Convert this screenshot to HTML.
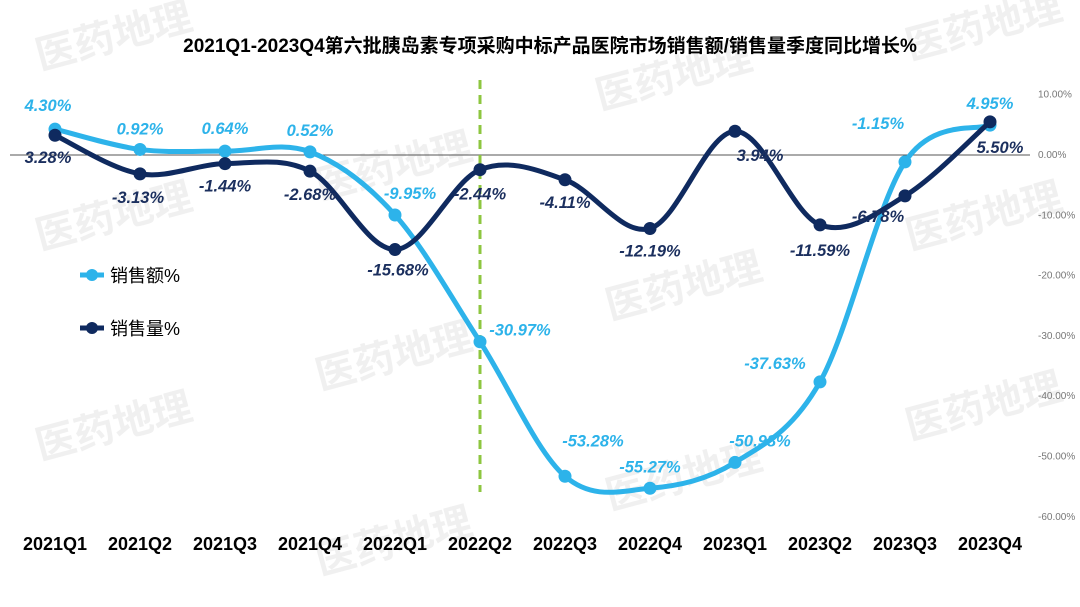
<!DOCTYPE html>
<html><head><meta charset="utf-8"><style>
body{margin:0;background:#fff;}
svg{display:block;font-family:"Liberation Sans","Noto Sans CJK SC",sans-serif;}
</style></head><body>
<svg id="chart" width="1080" height="607" viewBox="0 0 1080 607">
<g id="wm" fill="#000" fill-opacity="0.06" font-weight="bold" font-size="40" font-family="'Noto Sans CJK SC',sans-serif">
<text x="40" y="70" transform="rotate(-15 40 70)">医药地理</text>
<text x="600" y="110" transform="rotate(-15 600 110)">医药地理</text>
<text x="910" y="60" transform="rotate(-15 910 60)">医药地理</text>
<text x="320" y="200" transform="rotate(-15 320 200)">医药地理</text>
<text x="40" y="250" transform="rotate(-15 40 250)">医药地理</text>
<text x="610" y="320" transform="rotate(-15 610 320)">医药地理</text>
<text x="910" y="250" transform="rotate(-15 910 250)">医药地理</text>
<text x="320" y="390" transform="rotate(-15 320 390)">医药地理</text>
<text x="40" y="460" transform="rotate(-15 40 460)">医药地理</text>
<text x="610" y="510" transform="rotate(-15 610 510)">医药地理</text>
<text x="910" y="440" transform="rotate(-15 910 440)">医药地理</text>
<text x="320" y="575" transform="rotate(-15 320 575)">医药地理</text>
</g>
<text x="550" y="52" text-anchor="middle" font-size="19" font-weight="bold" fill="#000">2021Q1-2023Q4第六批胰岛素专项采购中标产品医院市场销售额/销售量季度同比增长%</text>
<g id="axis"></g>
<g id="series"></g>
<g>
<line x1="80" y1="275" x2="104" y2="275" stroke="#2DB3EA" stroke-width="5"/><circle cx="92" cy="275" r="6" fill="#2DB3EA"/>
<text x="110" y="282" font-size="18" fill="#000">销售额%</text>
<line x1="80" y1="328" x2="104" y2="328" stroke="#0F2A5F" stroke-width="5"/><circle cx="92" cy="328" r="6" fill="#0F2A5F"/>
<text x="110" y="335" font-size="18" fill="#000">销售量%</text>
</g>
</svg>
<script>
const categories=["2021Q1","2021Q2","2021Q3","2021Q4","2022Q1","2022Q2","2022Q3","2022Q4","2023Q1","2023Q2","2023Q3","2023Q4"];
const salesAmount=[4.30,0.92,0.64,0.52,-9.95,-30.97,-53.28,-55.27,-50.98,-37.63,-1.15,4.95];
const salesVolume=[3.28,-3.13,-1.44,-2.68,-15.68,-2.44,-4.11,-12.19,3.94,-11.59,-6.78,5.50];
const yTicks=[10,0,-10,-20,-30,-40,-50,-60];
const amtOff=[[-7,-24],[0,-21],[0,-23],[0,-22],[15,-22],[40,-12],[28,-36],[0,-22],[25,-22],[-45,-19],[-27,-39],[0,-22]];
const volOff=[[-7,22],[-2,23],[0,22],[0,23],[3,20],[0,24],[0,22],[0,22],[25,24],[0,25],[-27,20],[10,25]];
const NS="http://www.w3.org/2000/svg";
const X=i=>55+85*i, Y=v=>155-6.03*v;
function mk(tag,attrs,parent){const e=document.createElementNS(NS,tag);for(const k in attrs)e.setAttribute(k,attrs[k]);parent.appendChild(e);return e;}
const ax=document.getElementById('axis'), se=document.getElementById('series');
yTicks.forEach(t=>{const e=mk('text',{x:1038,y:Y(t)+3,'font-size':10,fill:'#777'},ax);e.textContent=t.toFixed(2)+'%';

});
const zl=mk('line',{x1:10,x2:1030,y1:Y(0),y2:Y(0),stroke:'#555','stroke-width':1},ax);


categories.forEach((c,i)=>{const e=mk('text',{x:X(i),y:550,'text-anchor':'middle','font-size':18,'font-weight':'bold',fill:'#000'},ax);e.textContent=c;

});
const dl=mk('line',{x1:X(5),x2:X(5),y1:80,y2:492,stroke:'#8DC63F','stroke-width':3,'stroke-dasharray':'9,6'},ax);


function path(vals){const p=vals.map((v,i)=>[X(i),Y(v)]);let d=`M${p[0][0]},${p[0][1]}`;
for(let i=0;i<p.length-1;i++){const p0=p[i-1]||p[i],p1=p[i],p2=p[i+1],p3=p[i+2]||p2,t=6;
d+=` C${p1[0]+(p2[0]-p0[0])/t},${p1[1]+(p2[1]-p0[1])/t} ${p2[0]-(p3[0]-p1[0])/t},${p2[1]-(p3[1]-p1[1])/t} ${p2[0]},${p2[1]}`;}return d;}
function series(vals,offs,color,name,labelColor){
const g=mk('g',{},se);


const pa=mk('path',{d:path(vals),fill:'none',stroke:color,'stroke-width':5},g);


vals.forEach((v,i)=>{const c=mk('circle',{cx:X(i),cy:Y(v),r:6.5,fill:color},g);


const t=mk('text',{x:X(i)+offs[i][0],y:Y(v)+offs[i][1]+6,'text-anchor':'middle','font-size':16.5,'font-weight':'bold','font-style':'italic',fill:labelColor},g);
t.textContent=v.toFixed(2)+'%';

});}
series(salesAmount,amtOff,'#2DB3EA','sales-amount','#2DB3EA');
series(salesVolume,volOff,'#0F2A5F','sales-volume','#1B2F5E');
</script>
</body></html>
